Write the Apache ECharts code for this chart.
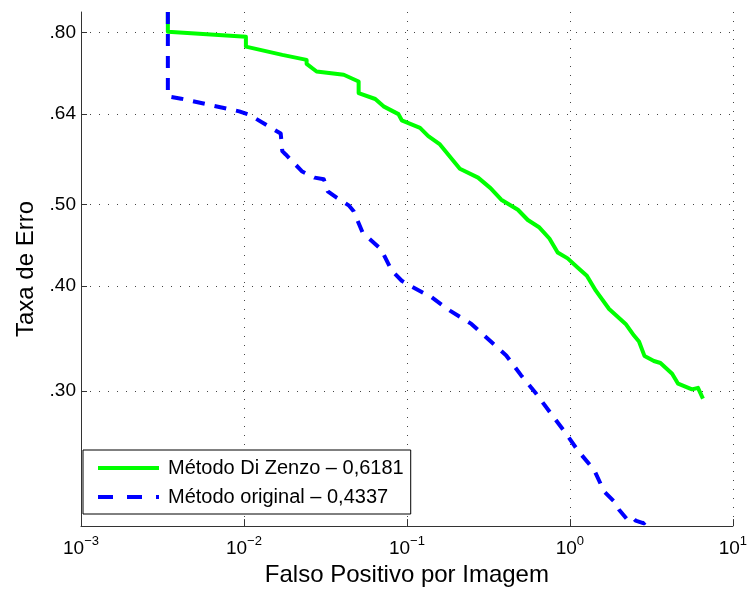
<!DOCTYPE html>
<html>
<head>
<meta charset="utf-8">
<script src="https://cdn.jsdelivr.net/npm/echarts@6/dist/echarts.min.js"></script>
<style>
html,body{margin:0;padding:0;background:#fff;}
#chart{width:750px;height:592px;}
</style>
</head>
<body>
<div id="chart"></div>
<script>
// ---- data ----
const seriesNames = ['Método Di Zenzo – 0,6181', 'Método original – 0,4337'];

const greenX = [0.003412,0.003412,0.003412,0.01028,0.01028,0.01719,0.02424,0.02424,0.02790,0.04095,0.05056,0.05056,0.06394,0.07187,0.08873,0.09295,0.1204,0.1353,0.1595,0.2113,0.2733,0.3258,0.3793,0.4798,0.5521,0.6508,0.7489,0.8418,0.9690,1.115,1.271,1.443,1.741,2.199,2.475,2.656,2.873,3.279,3.597,4.242,4.615,5.617,6.113,6.558];
const greenY = [0.8465,0.8170,0.8022,0.7913,0.7700,0.7527,0.7425,0.7345,0.7192,0.7128,0.6999,0.6781,0.6671,0.6538,0.6400,0.6293,0.6164,0.6025,0.5890,0.5512,0.5379,0.5227,0.5064,0.4926,0.4790,0.4692,0.4553,0.4383,0.4312,0.4207,0.4112,0.3947,0.3754,0.3604,0.3491,0.3434,0.3300,0.3256,0.3238,0.3145,0.3060,0.3013,0.3025,0.2938];

const blueX = [0.003412,0.003412,0.004121,0.009354,0.01077,0.01681,0.01719,0.01804,0.02279,0.02716,0.03092,0.03269,0.03725,0.04393,0.04713,0.05347,0.06938,0.08076,0.09295,0.1046,0.1418,0.1836,0.2487,0.3222,0.4069,0.5024,0.6205,0.7663,0.9461,1.115,1.411,1.623,1.868,2.004,2.253,2.416,2.532,2.848,3.201];
const blueY = [0.8465,0.6719,0.6677,0.6449,0.6391,0.6069,0.5783,0.5731,0.5469,0.5379,0.5354,0.5182,0.5088,0.4986,0.4905,0.4628,0.4422,0.4169,0.4056,0.4001,0.3877,0.3737,0.3604,0.3443,0.3306,0.3130,0.2978,0.2819,0.2670,0.2551,0.2415,0.2278,0.2217,0.2167,0.2109,0.2123,0.2103,0.2088,0.2134];

const xTickValues = [0.001, 0.01, 0.1, 1, 10];
const xTickExponents = ['−3', '−2', '−1', '0', '1'];
const yTickValues = [0.30, 0.40, 0.50, 0.64, 0.80];
const yTickLabels = ['.30', '.40', '.50', '.64', '.80'];

const xName = 'Falso Positivo por Imagem';
const yName = 'Taxa de Erro';

// ---- chart ----
const FONT = '"Liberation Sans", Arial, Helvetica, sans-serif';
function nearestIndex(arr, v) {
  let best = 0, bd = Infinity;
  arr.forEach((a, i) => { const d = Math.abs(Math.log10(a) - Math.log10(v)); if (d < bd) { bd = d; best = i; } });
  return best;
}
const zip = (xs, ys) => xs.map((x, i) => [x, ys[i]]);

const chart = echarts.init(document.getElementById('chart'), null, {renderer: 'canvas'});
const gridLine = {show: true, lineStyle: {color: '#444', width: 1, type: [1, 8]}};
chart.setOption({
  animation: false,
  backgroundColor: '#fff',
  textStyle: {fontFamily: FONT},
  grid: {left: 81, right: 14, top: 12, bottom: 64, containLabel: false},
  xAxis: {
    type: 'log', logBase: 10, min: 0.001, max: 10,
    name: xName, nameLocation: 'middle', nameGap: 34,
    nameTextStyle: {fontSize: 24, color: '#000', fontFamily: FONT},
    axisLine: {show: true, lineStyle: {color: '#333', width: 1}},
    axisTick: {show: true, inside: true, length: 7, lineStyle: {color: '#333'}},
    minorTick: {show: false},
    splitLine: gridLine,
    axisLabel: {
      margin: 9, color: '#000', fontFamily: FONT,
      formatter: function (v) { return '{b|10}{s|' + xTickExponents[nearestIndex(xTickValues, v)] + '}'; },
      rich: {
        b: {fontSize: 19, color: '#000', fontFamily: FONT, verticalAlign: 'bottom'},
        s: {fontSize: 13, color: '#000', fontFamily: FONT, verticalAlign: 'top', padding: [0, 0, 10, 0]}
      }
    }
  },
  yAxis: {
    type: 'log', logBase: 10, min: 0.2072, max: 0.8465,
    name: yName, nameLocation: 'middle', nameGap: 43, nameRotate: 90,
    nameTextStyle: {fontSize: 24, color: '#000', fontFamily: FONT},
    axisLine: {show: true, lineStyle: {color: '#333', width: 1}},
    axisTick: {show: true, inside: true, length: 6, lineStyle: {color: '#333'}, customValues: yTickValues},
    splitLine: gridLine,
    axisLabel: {
      margin: 5, fontSize: 19, color: '#000', fontFamily: FONT,
      customValues: yTickValues,
      formatter: function (v) { return yTickLabels[nearestIndex(yTickValues, v)]; }
    }
  },
  legend: {
    orient: 'vertical', left: 83, top: 450,
    padding: [8, 7, 7, 13], itemGap: 9, itemWidth: 61, itemHeight: 14,
    backgroundColor: '#fff', borderColor: '#000', borderWidth: 1, borderRadius: 0,
    itemStyle: {opacity: 0},
    textStyle: {fontSize: 20, color: '#000', fontFamily: FONT, padding: [0, 0, 0, 4]},
    data: [
      {name: seriesNames[0], lineStyle: {width: 4, type: 'solid'}},
      {name: seriesNames[1], lineStyle: {width: 4, type: [15, 14]}}
    ]
  },
  series: [
    {
      name: seriesNames[0], type: 'line', data: zip(greenX, greenY),
      symbol: 'none', showSymbol: false, clip: true,
      lineStyle: {color: '#00ff00', width: 4, join: 'round'},
      itemStyle: {color: '#00ff00'}
    },
    {
      name: seriesNames[1], type: 'line', data: zip(blueX, blueY),
      symbol: 'none', showSymbol: false, clip: true,
      lineStyle: {color: '#0000ff', width: 4, type: [12, 10], join: 'round'},
      itemStyle: {color: '#0000ff'}
    }
  ]
});
</script>
</body>
</html>
